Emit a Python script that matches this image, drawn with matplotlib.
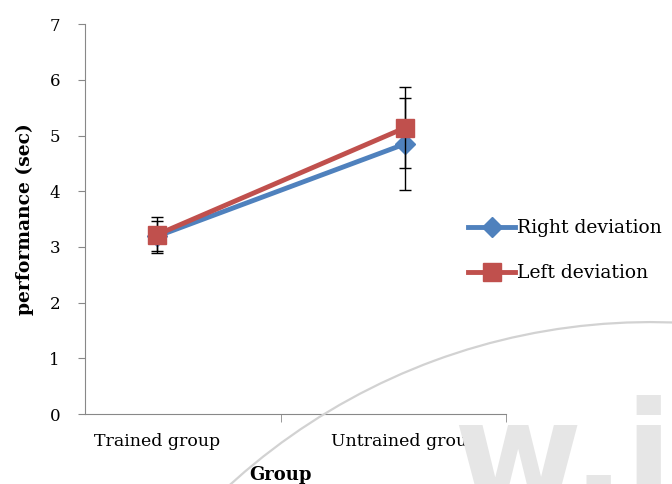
import matplotlib.pyplot as plt
from matplotlib.patches import Arc

groups = ["Trained group", "Untrained group"]
right_dev = [3.19, 4.85]
right_err = [0.27, 0.82]
left_dev = [3.22, 5.14]
left_err = [0.32, 0.73]

plt.rcParams["font.family"] = "DejaVu Serif"

fig = plt.figure(figsize=(6.72, 4.84), dpi=100)
ax = fig.add_axes([0.1265, 0.1446, 0.6265, 0.8054])

# faint watermark behind everything
fig.patches.append(Arc((0.968, -0.957), 1.86, 2.583, theta1=80, theta2=135,
                       transform=fig.transFigure, color="#d2d2d2", lw=1.6,
                       zorder=0))
fig.text(0.675, -0.035, "w.ij", fontsize=100, color="#e6e6e6",
         family="DejaVu Sans", fontweight="bold", ha="left",
         va="baseline", zorder=0)

x = list(range(len(groups)))
ax.errorbar(x, right_dev, yerr=right_err, color="#4F81BD", lw=3.5,
            marker="D", markersize=10, ecolor="black", elinewidth=1,
            capsize=4, capthick=1, label="Right deviation", zorder=3)
ax.errorbar(x, left_dev, yerr=left_err, color="#C0504D", lw=3.5,
            marker="s", markersize=13, ecolor="black", elinewidth=1,
            capsize=4, capthick=1, label="Left deviation", zorder=4)

ax.set_xlim(-0.29, 1.407)
ax.set_ylim(0, 7)
ax.set_yticks(range(8))
ax.set_xticks(x)
ax.set_xticklabels(groups, fontsize=12.5)
ax.set_xticks([0.5, 1.407], minor=True)
ax.tick_params(axis="x", which="major", length=0, pad=14)
ax.tick_params(axis="x", which="minor", length=6, color="#888888")
ax.tick_params(axis="y", length=5, color="#888888", labelsize=12, pad=13)
ax.set_ylabel("performance (sec)", fontsize=13.5, fontweight="bold",
              labelpad=11)
ax.set_xlabel("Group", fontsize=13, fontweight="bold", labelpad=11)
ax.xaxis.label.set_x(0.465)

for side in ("top", "right"):
    ax.spines[side].set_visible(False)
for side in ("left", "bottom"):
    ax.spines[side].set_color("#888888")
ax.patch.set_alpha(0)

handles, labels = ax.get_legend_handles_labels()
handles = [h[0] for h in handles]
fig.legend(handles, labels, loc="center left",
           bbox_to_anchor=(0.672, 0.482), frameon=False, fontsize=13.5,
           handlelength=2.5, handletextpad=0.1, labelspacing=1.45)

fig.savefig("out.png", dpi=100)
